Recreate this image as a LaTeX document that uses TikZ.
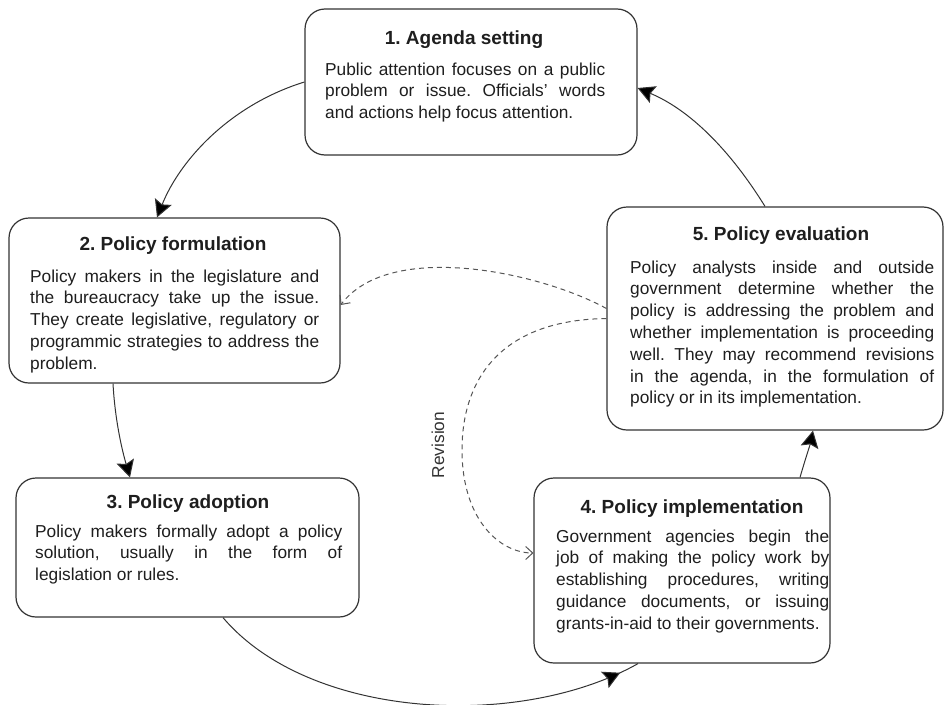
\documentclass[tikz,border=0pt]{standalone}
\usepackage{fontspec}
\setmainfont{Liberation Sans}
\usetikzlibrary{arrows.meta,decorations.markings}
\definecolor{inkc}{HTML}{1E1E1E}
\definecolor{linec}{HTML}{333333}
\definecolor{dashc}{HTML}{555555}
\frenchspacing
\tikzset{
  bigtip/.tip={Stealth[length=17pt,width=18pt,inset=3pt,fill=black]},
  boxshape/.style={draw=linec, line width=1.2pt, rounded corners=20pt, inner sep=0pt, fill=white},
  titletext/.style={anchor=base, inner sep=0pt, text=inkc, font=\fontsize{19}{23}\selectfont\bfseries},
  bodytext/.style={anchor=base west, inner sep=0pt, text=inkc, align=justify, font=\fontsize{17.3}{21.8}\selectfont},
  flow/.style={draw=linec, line width=1pt, -bigtip},
  revflow/.style={draw=dashc, line width=1pt, dash pattern=on 5pt off 4pt, -{Straight Barb[length=7pt,width=13pt]}},
  midtip/.style={draw=linec, line width=1pt, postaction={decorate},
     decoration={markings, mark=at position -20pt with {\arrow{bigtip}}}},
  sidelabel/.style={rotate=90, inner sep=0pt, text=linec, font=\fontsize{17.3}{20}\selectfont}
}
\begin{document}
\begin{tikzpicture}[x=1pt, y=-1pt]
\useasboundingbox (0,0) rectangle (944,704);

% boxes
\node[boxshape, minimum width=332pt, minimum height=146pt] (b1) at (471,82) {};
\node[boxshape, minimum width=331pt, minimum height=165pt] (b2) at (174.5,300.5) {};
\node[boxshape, minimum width=343pt, minimum height=139pt] (b3) at (187.5,547.5) {};
\node[boxshape, minimum width=296pt, minimum height=185pt] (b4) at (682,570.5) {};
\node[boxshape, minimum width=336pt, minimum height=223pt] (b5) at (775,318.5) {};

% titles
\node[titletext] (t1) at (464,44) {1. Agenda setting};
\node[titletext] (t2) at (173,250) {2. Policy formulation};
\node[titletext] (t3) at (188,508) {3. Policy adoption};
\node[titletext] (t4) at (692,513) {4. Policy implementation};
\node[titletext] (t5) at (781,240) {5. Policy evaluation};

% bodies
\node[bodytext, text width=280pt] (d1) at (325,75) {Public attention focuses on a public\linebreak problem or issue. Officials' words\linebreak and actions help focus attention.};
\node[bodytext, text width=289pt] (d2) at (30,282) {Policy makers in the legislature and\linebreak the bureaucracy take up the issue.\linebreak They create legislative, regulatory or\linebreak programmic strategies to address the\linebreak problem.};
\node[bodytext, text width=307pt] (d3) at (35,537) {Policy makers formally adopt a policy\linebreak solution, usually in the form of\linebreak legislation or rules.};
\node[bodytext, text width=273pt] (d4) at (556,542) {Government agencies begin the\linebreak job of making the policy work by\linebreak establishing procedures, writing\linebreak guidance documents, or issuing\linebreak grants-in-aid to their governments.};
\node[bodytext, text width=304pt] (d5) at (630,273) {Policy analysts inside and outside\linebreak government determine whether the\linebreak policy is addressing the problem and\linebreak whether implementation is proceeding\linebreak well. They may recommend revisions\linebreak in the agenda, in the formulation of\linebreak policy or in its implementation.};

% main cycle
\draw[flow] (b1.west) .. controls (230,105) and (180,160) .. ([xshift=-17.5pt]b2.north);
\draw[flow] ([xshift=-61.5pt]b2.south) .. controls (115,420) and (122,450) .. ([xshift=-57.5pt]b3.north);
\draw[midtip] ([xshift=35.5pt]b3.south) .. controls (310,720) and (520,730) .. ([xshift=-44pt]b4.south);
\draw[flow] ([xshift=118pt]b4.north) .. controls (805,460) and (810,445) .. ([xshift=38pt]b5.south);
\draw[flow] ([xshift=-10pt]b5.north) .. controls (730,150) and (690,110) .. ([yshift=-6pt]b1.east);

% revision (dashed)
\draw[revflow] ([yshift=10pt]b5.west) .. controls (540,272) and (390,240) .. ([yshift=-4.5pt]b2.east);
\draw[revflow] (b5.west) .. controls (500,320) and (462,380) .. (462,450) .. controls (462,520) and (500,553) .. ([yshift=17.5pt]b4.west);
\node[sidelabel] (rev) at (438,445) {Revision};
\end{tikzpicture}
\end{document}
